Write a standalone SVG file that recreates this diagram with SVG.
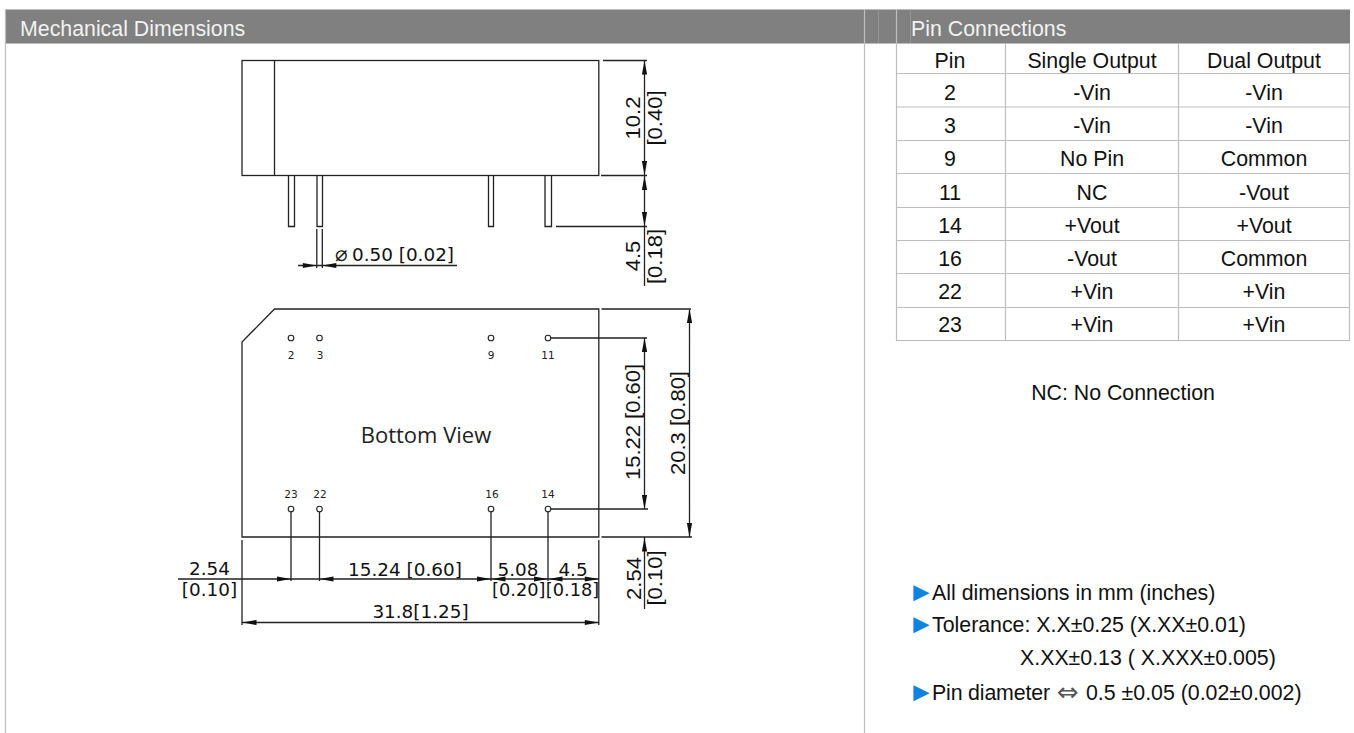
<svg xmlns="http://www.w3.org/2000/svg" width="1354" height="733" viewBox="0 0 1354 733">
<style>
.g{fill:none;stroke:#bdbdbd;stroke-width:1.2}
.hl{fill:none;stroke:#969696;stroke-width:1}
.d{fill:none;stroke:#222;stroke-width:1.3}
.hd{font:21.33px "Liberation Sans",Arial,sans-serif;fill:#f2f2f2}
.t{font:21.33px "Liberation Sans",Arial,sans-serif;fill:#111}
.tc{text-anchor:middle}
.dm{font:18.4px "DejaVu Sans",Verdana,sans-serif;fill:#111;text-anchor:middle}
.dn{font-size:17.8px}
.rt{font:20px "Liberation Sans",Arial,sans-serif;fill:#111;text-anchor:middle}
.pn{font:10.5px "DejaVu Sans",Verdana,sans-serif;fill:#222;text-anchor:middle}
.bv{font:22px "Open Sans",sans-serif;fill:#222;text-anchor:middle}
.pc{fill:#fff;stroke:#222;stroke-width:1.1}
.ah{fill:#111;stroke:none}
.bl{font:27px "Liberation Sans",Arial,sans-serif;fill:#0f83e0}
</style>
<defs>
<path id="a" class="ah" d="M0 0L-14 -2.6L-14 2.6Z"/>
</defs>
<rect width="1354" height="733" fill="#fff"/>
<g id="frame">
<rect x="6" y="10" width="1344" height="33" fill="#808080"/>
<path class="g" d="M5.5 9.500H1350M5.500 43.500H1350M5.500 9.500V733M864.500 9.500V733M896.500 9.500V341"/>
<path class="hl" d="M878.500 10V43M910.500 10V43"/>
<text class="hd" x="20" y="36">Mechanical Dimensions</text>
<text class="hd" x="911" y="36">Pin Connections</text>
</g>
<g id="pin-table">
<path class="g" d="M896 73.500H1350M896 107H1350M896 140.500H1350M896 173.500H1350M896 207.500H1350M896 240.500H1350M896 273.500H1350M896 307.500H1350M896 340.500H1350M1005.500 43V341M1178.500 43V341M1349.500 43V341"/>
<g class="t tc">
<text x="950" y="68">Pin</text><text x="1092" y="68">Single Output</text><text x="1264" y="68">Dual Output</text>
<text x="950" y="100">2</text><text x="1092" y="100">-Vin</text><text x="1264" y="100">-Vin</text>
<text x="950" y="133">3</text><text x="1092" y="133">-Vin</text><text x="1264" y="133">-Vin</text>
<text x="950" y="166">9</text><text x="1092" y="166">No Pin</text><text x="1264" y="166">Common</text>
<text x="950" y="200">11</text><text x="1092" y="200">NC</text><text x="1264" y="200">-Vout</text>
<text x="950" y="233">14</text><text x="1092" y="233">+Vout</text><text x="1264" y="233">+Vout</text>
<text x="950" y="266">16</text><text x="1092" y="266">-Vout</text><text x="1264" y="266">Common</text>
<text x="950" y="299">22</text><text x="1092" y="299">+Vin</text><text x="1264" y="299">+Vin</text>
<text x="950" y="332">23</text><text x="1092" y="332">+Vin</text><text x="1264" y="332">+Vin</text>
</g>
</g>
<g id="notes">
<text class="t tc" x="1123" y="400">NC: No Connection</text>
<text class="bl" x="908" y="601">►</text><text class="t" x="932" y="600">All dimensions in mm (inches)</text>
<text class="bl" x="908" y="633">►</text><text class="t" x="932" y="632">Tolerance: X.X±0.25 (X.XX±0.01)</text>
<text class="t" x="1020" y="665">X.XX±0.13 ( X.XXX±0.005)</text>
<text class="bl" x="908" y="701">►</text><text class="t" x="932" y="700" textLength="118">Pin diameter</text>
<text x="1057" y="700.500" style="font:26px 'DejaVu Sans',sans-serif;fill:#555">⇔</text>
<text class="t" x="1086" y="700">0.5 ±0.05 (0.02±0.002)</text>
</g>
<g id="side-view">
<rect class="d" x="242" y="60.500" width="356.800" height="115"/>
<path class="d" d="M274.500 60.500V175.500"/>
<path class="d" d="M288.500 176V226.500H294.500V176M317 176V226.500H322.500V176M488.500 176V226.500H493.500V176M545 176V226.500H551.500V176"/>
</g>
<g id="bottom-view">
<path class="d" d="M274.500 309H598.800V537H242V342Z"/>
<g class="pc">
<circle cx="291" cy="338" r="2.800"/><circle cx="319.500" cy="338" r="2.800"/><circle cx="491" cy="338" r="2.800"/><circle cx="548" cy="338" r="2.800"/>
<circle cx="291" cy="509" r="2.800"/><circle cx="319.500" cy="509" r="2.800"/><circle cx="491" cy="509" r="2.800"/><circle cx="548" cy="509" r="2.800"/>
</g>
<g class="pn">
<text x="291" y="359">2</text><text x="320" y="359">3</text><text x="491" y="359">9</text><text x="548" y="359">11</text>
<text x="291" y="498">23</text><text x="320" y="498">22</text><text x="492" y="498">16</text><text x="548" y="498">14</text>
</g>
<text class="bv" x="426" y="443">Bottom View</text>
</g>
<g id="connectors">
<path class="d" d="M603 60.500H647M601 175.500H647M556 226.500H647M644.500 60V286M316.800 229V268M322.300 229V268M298 265.500H457"/>
<path class="d" d="M601.500 309H691M601.500 537H692M689.500 310V537M551 338H647M551 509H648M644.500 338V509M644.500 537V609"/>
<path class="d" d="M291 512V581M319.500 512V581M491 512V581M548 512V581M598.800 540V625M242 540V625M178 579H599M242 622.500H599"/>
<g>
<use href="#a" transform="translate(644.500 60.500) rotate(-90)"/>
<use href="#a" transform="translate(644.500 175) rotate(90)"/>
<use href="#a" transform="translate(644.500 176) rotate(-90)"/>
<use href="#a" transform="translate(644.500 226) rotate(90)"/>
<use href="#a" transform="translate(316.800 265.500)"/>
<use href="#a" transform="translate(322.300 265.500) rotate(180)"/>
<use href="#a" transform="translate(689.500 309) rotate(-90)"/>
<use href="#a" transform="translate(689.500 537) rotate(90)"/>
<use href="#a" transform="translate(644.500 338) rotate(-90)"/>
<use href="#a" transform="translate(644.500 509) rotate(90)"/>
<use href="#a" transform="translate(644.500 537.500) rotate(-90)"/>
<use href="#a" transform="translate(291 579)"/>
<use href="#a" transform="translate(319.500 579) rotate(180)"/>
<use href="#a" transform="translate(491 579)"/>
<use href="#a" transform="translate(491.500 579) rotate(180)"/>
<use href="#a" transform="translate(548 579)"/>
<use href="#a" transform="translate(548.500 579) rotate(180)"/>
<use href="#a" transform="translate(598.800 579)"/>
<use href="#a" transform="translate(242.500 622.500) rotate(180)"/>
<use href="#a" transform="translate(598.800 622.500)"/>
</g>
</g>
<g id="dimension-labels">
<text x="335" y="261" style="font:21px 'DejaVu Sans',sans-serif;fill:#222">⌀</text>
<text class="dm" x="403" y="261">0.50 [0.02]</text>
<text class="dm" x="209.500" y="575">2.54</text>
<text class="dm" x="209.500" y="596">[0.10]</text>
<text class="dm" x="405" y="576">15.24 [0.60]</text>
<text class="dm" x="518" y="576">5.08</text>
<text class="dm dn" x="518.800" y="596">[0.20]</text>
<text class="dm" x="573" y="576">4.5</text>
<text class="dm dn" x="572.500" y="596">[0.18]</text>
<text class="dm" x="420.500" y="617.500">31.8[1.25]</text>
<text class="rt" transform="translate(640 118) rotate(-90) scale(1.1 1)">10.2</text>
<text class="rt" transform="translate(662 118) rotate(-90) scale(1.1 1)">[0.40]</text>
<text class="rt" transform="translate(640 256) rotate(-90) scale(1.1 1)">4.5</text>
<text class="rt" transform="translate(662 256.500) rotate(-90) scale(1.1 1)">[0.18]</text>
<text class="rt" transform="translate(640 422) rotate(-90) scale(1.1 1)">15.22 [0.60]</text>
<text class="rt" transform="translate(685 423) rotate(-90) scale(1.1 1)">20.3 [0.80]</text>
<text class="rt" transform="translate(641 578.500) rotate(-90) scale(1.1 1)">2.54</text>
<text class="rt" transform="translate(662 578) rotate(-90) scale(1.1 1)">[0.10]</text>
</g>
</svg>
